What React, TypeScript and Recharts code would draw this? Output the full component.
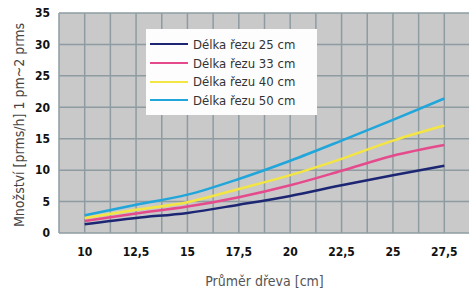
import { LineChart, Line, XAxis, YAxis, CartesianGrid } from 'recharts'

// průměr dřeva [cm]
const diameters = [10, 12.5, 15, 17.5, 20, 22.5, 25, 27.5]

// množství [prms/h] per délka řezu
const cut25 = [1.4, 2.4, 3.2, 4.5, 5.9, 7.6, 9.2, 10.7]
const cut33 = [1.9, 3.1, 4.2, 5.7, 7.6, 9.9, 12.3, 14.0]
const cut40 = [2.4, 3.7, 4.9, 7.0, 9.2, 11.8, 14.7, 17.1]
const cut50 = [2.8, 4.5, 6.1, 8.6, 11.5, 14.7, 18.0, 21.4]

const xTicks = [10, 12.5, 15, 17.5, 20, 22.5, 25, 27.5]
const yTicks = [0, 5, 10, 15, 20, 25, 30, 35]
const xGrid = [8.75, 10, 11.25, 12.5, 13.75, 15, 16.25, 17.5, 18.75, 20, 21.25, 22.5, 23.75, 25, 26.25, 27.5, 28.75]

const series = [
  { key: 'c25', name: 'Délka řezu 25 cm', color: '#1d2673', values: cut25 },
  { key: 'c33', name: 'Délka řezu 33 cm', color: '#e54b8c', values: cut33 },
  { key: 'c40', name: 'Délka řezu 40 cm', color: '#f3e544', values: cut40 },
  { key: 'c50', name: 'Délka řezu 50 cm', color: '#20a6da', values: cut50 },
]

const data = diameters.map((d, i) => {
  const row: Record<string, number> = { d }
  series.forEach((s) => {
    row[s.key] = s.values[i]
  })
  return row
})

const tickStyle = {
  fontFamily: '"DejaVu Sans Condensed", "DejaVu Sans", sans-serif',
  fontWeight: 700,
  fontSize: 12,
  fill: '#111',
}

const labelFont = '"DejaVu Sans Condensed", "DejaVu Sans", sans-serif'

function LegendBox() {
  return (
    <div
      style={{
        position: 'absolute',
        left: 146,
        top: 29,
        background: '#fdfdfd',
        width: 171,
        height: 86,
        boxSizing: 'border-box',
        padding: '6px 0 0 4px',
        fontFamily: labelFont,
        fontSize: 13,
        color: '#333',
      }}
    >
      {series.map((s) => (
        <div key={s.key} style={{ display: 'flex', alignItems: 'center', height: 18.7 }}>
          <span style={{ display: 'inline-block', width: 38, height: 2, background: s.color, marginRight: 5 }} />
          <span>{s.name}</span>
        </div>
      ))}
    </div>
  )
}

export default function App() {
  return (
    <div style={{ position: 'absolute', left: 0, top: 0, width: 469, height: 294, overflow: 'hidden', background: '#fff' }}>
      <LineChart width={480} height={294} data={data} margin={{ top: 13, right: 10, bottom: 0, left: 0 }}>
        <CartesianGrid
          fill="#c9c9c9"
          stroke="#8e9ca2"
          strokeWidth={1.5}
          verticalValues={xGrid}
          horizontalValues={yTicks}
        />
        <XAxis
          dataKey="d"
          type="number"
          domain={[8.75, 28.75]}
          ticks={xTicks}
          interval={0}
          tickFormatter={(v: number) => String(v).replace('.', ',')}
          axisLine={false}
          tickLine={false}
          tickSize={0}
          tickMargin={14}
          tick={tickStyle}
          height={61}
          label={{
            value: 'Průměr dřeva [cm]',
            position: 'insideBottom',
            offset: 8,
            style: { fontFamily: labelFont, fontSize: 14, fill: '#555' },
          }}
        />
        <YAxis
          type="number"
          domain={[0, 35]}
          ticks={yTicks}
          interval={0}
          axisLine={false}
          tickLine={false}
          tickSize={0}
          tickMargin={9}
          tick={tickStyle}
          width={59}
          label={{
            content: () => (
              <text
                x={19}
                y={125}
                transform="rotate(-90 19 125)"
                textAnchor="middle"
                dominantBaseline="central"
                fontFamily={labelFont}
                fontSize={14}
                fill="#444"
              >
                Množství [prms/h] 1 pm~2 prms
              </text>
            ),
          }}
        />
        {series.map((s) => (
          <Line
            key={s.key}
            type="monotone"
            dataKey={s.key}
            name={s.name}
            stroke={s.color}
            strokeWidth={2.5}
            dot={false}
            isAnimationActive={false}
          />
        ))}
      </LineChart>
      <LegendBox />
    </div>
  )
}
